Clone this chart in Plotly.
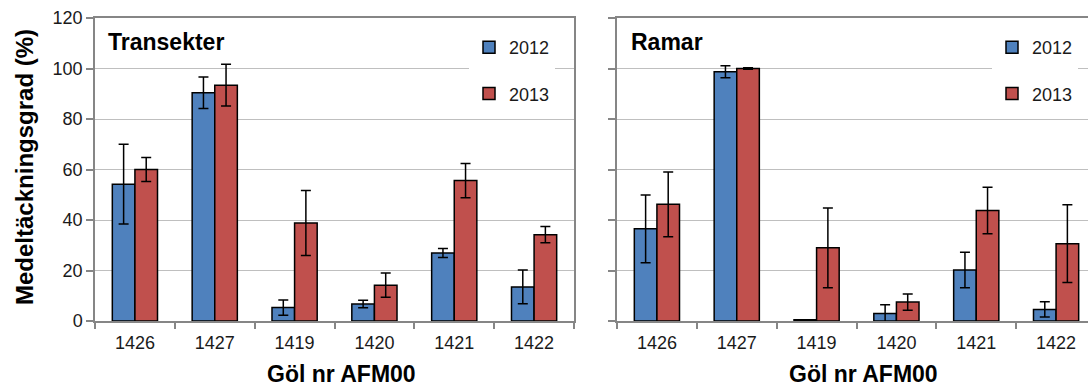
import plotly.graph_objects as go

# Pond ids along the x axis and the two survey years
ponds = ["1426", "1427", "1419", "1420", "1421", "1422"]
years = ["2012", "2013"]

# Mean cover (%) with error bars - transects
transekter_2012 = [54.2, 90.4, 5.3, 6.7, 26.9, 13.5]
transekter_2012_err = [15.8, 6.2, 3.0, 1.5, 1.8, 6.7]
transekter_2013 = [60.0, 93.4, 38.8, 14.2, 55.6, 34.2]
transekter_2013_err = [4.8, 8.3, 12.9, 4.8, 6.8, 3.2]

# Mean cover (%) with error bars - frames
ramar_2012 = [36.5, 98.7, 0.5, 3.0, 20.2, 4.6]
ramar_2012_err = [13.4, 2.4, 0.0, 3.4, 7.0, 3.0]
ramar_2013 = [46.2, 100.0, 29.0, 7.5, 43.8, 30.6]
ramar_2013_err = [12.8, 0.3, 15.8, 3.2, 9.2, 15.4]

y_ticks = [0, 20, 40, 60, 80, 100, 120]

BLUE = "#4F81BD"
RED = "#C0504D"
AXIS = "#868686"
GRID = "#BFBFBF"
FONT = "Arial, Liberation Sans, sans-serif"

W, H = 1088, 389
ML, MR, MT, MB = 95, 0, 18, 68
PW = W - ML - MR
PH = H - MT - MB


def px_x(p):
    return (p - ML) / PW


def px_y(p):
    return 1 - (p - MT) / PH


fig = go.Figure()

panels = [
    ("x", "y", "legend", [transekter_2012, transekter_2013],
     [transekter_2012_err, transekter_2013_err]),
    ("x2", "y2", "legend2", [ramar_2012, ramar_2013],
     [ramar_2012_err, ramar_2013_err]),
]
colors = [BLUE, RED]

for xa, ya, leg, values, errs in panels:
    for i, year in enumerate(years):
        fig.add_trace(go.Bar(
            x=ponds, y=values[i], name=year,
            xaxis=xa, yaxis=ya, legend=leg,
            legendgroup=f"{leg}-{year}",
            marker=dict(color=colors[i], line=dict(color="black", width=1.5)),
            error_y=dict(type="data", array=errs[i], visible=True,
                         color="black", thickness=1.5, width=5),
        ))

axis_common = dict(showline=True, linecolor=AXIS, linewidth=1.5,
                   ticks="outside", tickcolor=AXIS, tickwidth=1.5,
                   tickfont=dict(family=FONT, size=18, color="#1a1a1a"))

xcommon = dict(axis_common, type="category", tickson="boundaries",
               ticklen=6, ticklabelstandoff=5, showgrid=False, mirror=True)
ycommon = dict(axis_common, range=[0, 120], tickvals=y_ticks, ticklen=7,
               showgrid=True, gridcolor=GRID, gridwidth=1.2, zeroline=False)

left_end = px_x(574)
right_start = px_x(617)
cat_w = (574 - 95) / 6
right_max = -0.5 + (W - 617) / cat_w

legend_common = dict(bgcolor="white", borderwidth=0, tracegroupgap=20,
                     font=dict(family=FONT, size=18, color="#1a1a1a"),
                     xanchor="left", yanchor="top", traceorder="grouped")

fig.update_layout(
    width=W, height=H,
    margin=dict(l=ML, r=MR, t=MT, b=MB),
    paper_bgcolor="white", plot_bgcolor="white",
    barmode="group", bargap=0.434, bargroupgap=0,
    xaxis=dict(xcommon, domain=[0, left_end], anchor="y"),
    yaxis=dict(ycommon, anchor="x", mirror=True),
    xaxis2=dict(xcommon, domain=[right_start, 1], anchor="y2",
                range=[-0.5, right_max]),
    yaxis2=dict(ycommon, anchor="x2", showticklabels=False, mirror=False),
    legend=dict(legend_common, x=px_x(469), y=px_y(29)),
    legend2=dict(legend_common, x=px_x(992), y=px_y(29)),
    showlegend=True,
)

title_font = dict(family=FONT, size=23, color="black", weight="bold")
annotations = [
    dict(text="Transekter", x=px_x(106), y=px_y(42), xanchor="left",
         yanchor="middle", font=title_font),
    dict(text="Ramar", x=px_x(629), y=px_y(42), xanchor="left",
         yanchor="middle", font=title_font),
    dict(text="Göl nr AFM00", x=px_x(341), y=px_y(374), xanchor="center",
         yanchor="middle", font=title_font),
    dict(text="Göl nr AFM00", x=px_x(863), y=px_y(374), xanchor="center",
         yanchor="middle", font=title_font),
    dict(text="Medeltäckningsgrad (%)", x=px_x(24), y=px_y(167),
         xanchor="center", yanchor="middle", textangle=-90,
         font=dict(family=FONT, size=24, color="black", weight="bold")),
]
for a in annotations:
    a.update(xref="paper", yref="paper", showarrow=False)
fig.update_layout(annotations=annotations)

fig.write_html("out.html")
